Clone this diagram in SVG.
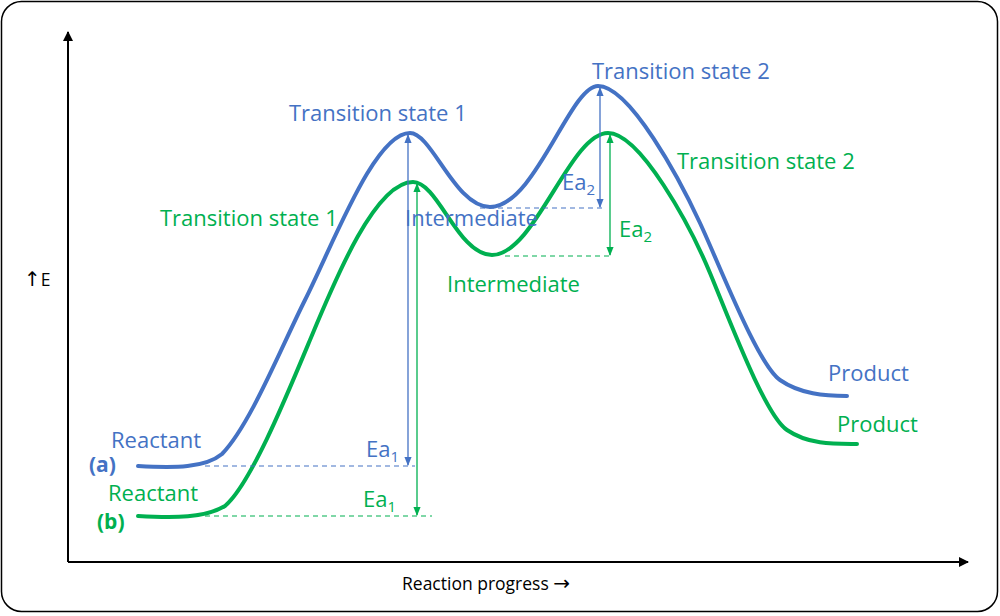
<svg xmlns="http://www.w3.org/2000/svg" width="1000" height="616" viewBox="0 0 1000 616">
<defs>
<marker id="ak" viewBox="0 0 10 10" refX="9" refY="5" markerWidth="5" markerHeight="5" orient="auto-start-reverse"><path d="M0,0 L10,5 L0,10 z" fill="#000"/></marker>
<marker id="ab" viewBox="0 0 10 10" refX="9" refY="5" markerWidth="7" markerHeight="7" orient="auto-start-reverse"><path d="M0,1 L10,5 L0,9 z" fill="#4472C4"/></marker>
<marker id="ag" viewBox="0 0 10 10" refX="9" refY="5" markerWidth="7" markerHeight="7" orient="auto-start-reverse"><path d="M0,1 L10,5 L0,9 z" fill="#00B050"/></marker>
<style>
text{font-family:"Open Sans","Liberation Sans",sans-serif;font-size:22px}
.k{font-size:17.5px;fill:#000}
.ar{font-family:"DejaVu Sans",sans-serif;font-size:20px}
.b{fill:#4472C4}.g{fill:#00B050}
.bold{font-weight:bold;font-size:21px}
.cb{fill:none;stroke:#4472C4;stroke-width:4;stroke-linecap:round}
.cg{fill:none;stroke:#00B050;stroke-width:4;stroke-linecap:round}
.db{stroke:#4472C4;stroke-width:1.2;stroke-dasharray:5,4}
.dg{stroke:#00B050;stroke-width:1.2;stroke-dasharray:5,4}
.eb{stroke:#4472C4;stroke-width:1.3;marker-start:url(#ab);marker-end:url(#ab)}
.eg{stroke:#00B050;stroke-width:1.3;marker-start:url(#ag);marker-end:url(#ag)}
</style>
</defs>
<rect x="1.5" y="1.5" width="996" height="610" rx="20" fill="#fff" stroke="#000" stroke-width="1.5"/>
<g id="axes">
<line x1="68" y1="562" x2="68" y2="32" stroke="#000" stroke-width="2" marker-end="url(#ak)"/>
<line x1="68" y1="562" x2="968" y2="562" stroke="#000" stroke-width="2" marker-end="url(#ak)"/>
<text class="k" x="24" y="286" font-size="20"><tspan class="ar" font-size="22">↑</tspan>E</text>
<text class="k" x="402" y="590">Reaction progress <tspan class="ar">→</tspan></text>
</g>
<g id="curve-a">
<path class="cb" d="M138,466 C175,468 205,468 222,454 C250,425 280,350 305,300 C335,240 375,133 410,133 C432,133 455,207 490,207 C535,207 570,86 598,86 C630,86 680,180 700,223 C720,266 758,365 780,380 C800,394 825,396 847,396"/>
</g>
<g id="curve-b">
<path class="cg" d="M138,516 C175,518 205,518 225,506 C250,485 285,400 310,340 C335,280 375,182 413,182 C438,182 458,255 492,255 C535,255 570,133 608,133 C640,133 690,225 710,273 C730,321 765,415 787,430 C809,445 835,444 857,444"/>
</g>
<g id="connectors">
<line class="db" x1="205" y1="466" x2="415" y2="466"/>
<line class="dg" x1="205" y1="516" x2="432" y2="516"/>
<line class="db" x1="480" y1="208" x2="606" y2="208"/>
<line class="dg" x1="505" y1="256" x2="612" y2="256"/>
<line class="eb" x1="408" y1="135" x2="408" y2="465"/>
<line class="eg" x1="417" y1="184" x2="417" y2="515"/>
<line class="eb" x1="600" y1="88" x2="600" y2="207"/>
<line class="eg" x1="610" y1="135" x2="610" y2="255"/>
</g>
<g id="labels-a">
<text class="b" x="289" y="121">Transition state 1</text>
<text class="b" x="592" y="79">Transition state 2</text>
<text class="b" x="405" y="226">Intermediate</text>
<text class="b" x="111" y="448">Reactant</text>
<text class="b bold" x="89" y="472">(a)</text>
<text class="b" x="828" y="381">Product</text>
<text class="b" x="366" y="457">Ea<tspan font-size="15" dy="5">1</tspan></text>
<text class="b" x="562" y="190">Ea<tspan font-size="15" dy="5">2</tspan></text>
</g>
<g id="labels-b">
<text class="g" x="160" y="226">Transition state 1</text>
<text class="g" x="677" y="169">Transition state 2</text>
<text class="g" x="447" y="292">Intermediate</text>
<text class="g" x="108" y="501">Reactant</text>
<text class="g bold" x="97" y="529">(b)</text>
<text class="g" x="837" y="432">Product</text>
<text class="g" x="363" y="507">Ea<tspan font-size="15" dy="5">1</tspan></text>
<text class="g" x="619" y="237">Ea<tspan font-size="15" dy="5">2</tspan></text>
</g>
</svg>
